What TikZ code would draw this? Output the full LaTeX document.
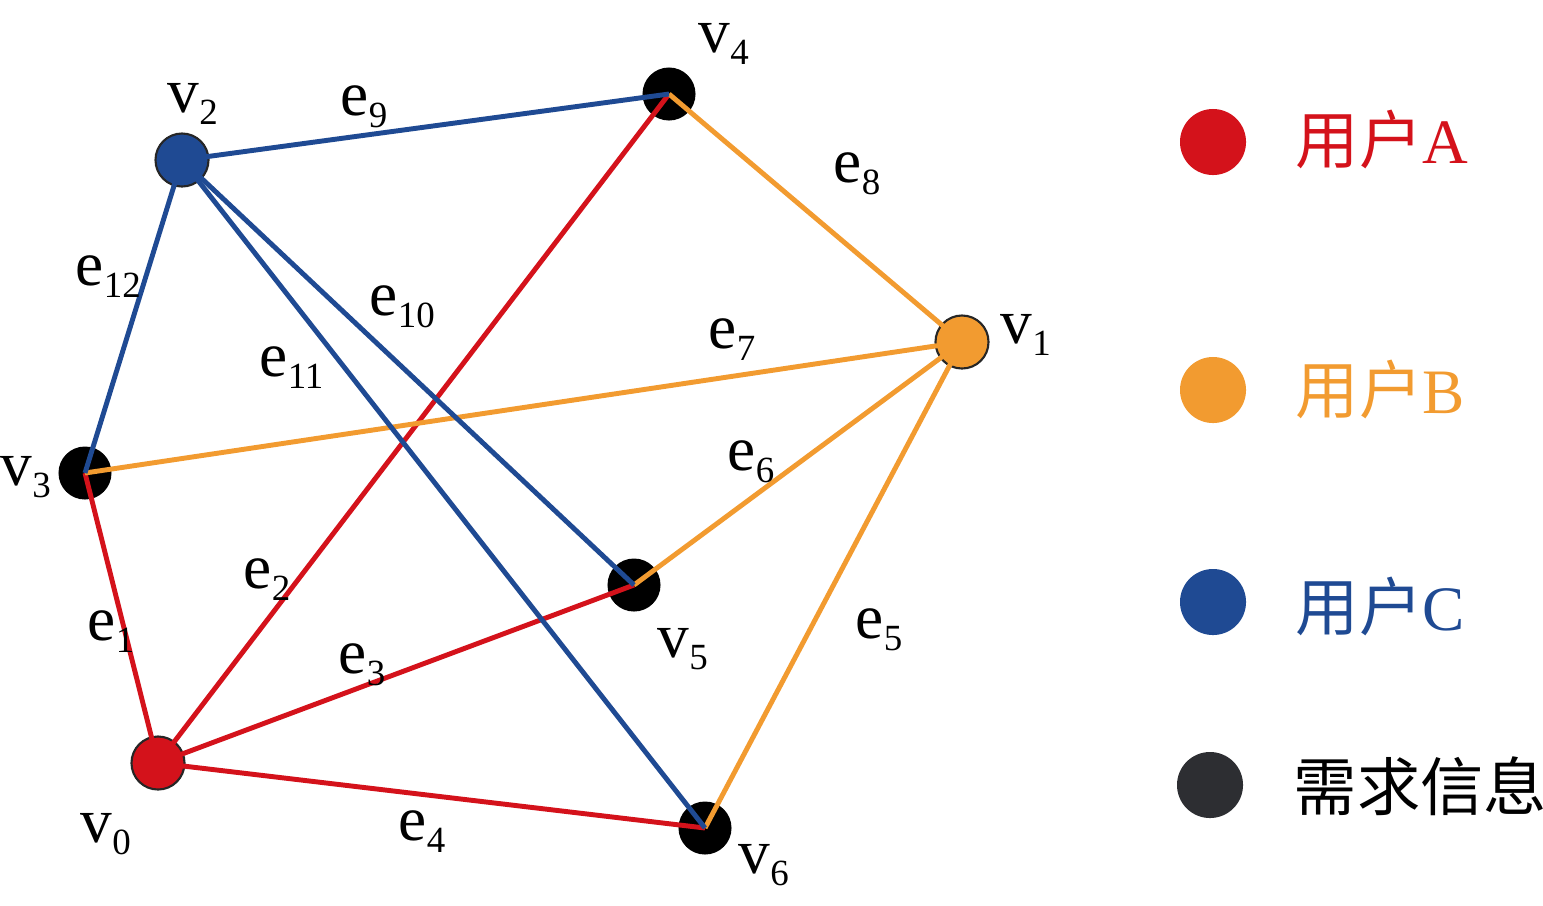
\documentclass[tikz,border=0pt]{standalone}
\usepackage{fontspec}
\setmainfont{Liberation Serif}
\newfontfamily\cjk{Noto Sans CJK SC}
\usetikzlibrary{positioning}

\definecolor{userA}{HTML}{D4121B}
\definecolor{userB}{HTML}{F29B30}
\definecolor{userC}{HTML}{1F4A93}
\definecolor{demand}{HTML}{2D2E32}
\newcommand{\lab}[2]{#1\raisebox{-0.19em}{\fontsize{10.5}{10.5}\selectfont #2}}

\begin{document}
\begin{tikzpicture}[x=0.01cm, y=-0.01cm,
        vertex/.style={circle, inner sep=0pt, minimum size=0.53cm},
        ring/.style={draw=black!85, line width=0.6pt},
        edge/.style={line width=1.4pt},
        tag/.style={anchor=base west, inner sep=0pt, font=\fontsize{18}{20}\selectfont},
        key/.style={circle, inner sep=0pt, minimum size=0.66cm}]

        \useasboundingbox (0,0) rectangle (1543,905);

        % Draw the vertices
        \node[vertex, ring, fill=userA] (v0) at (158,763) {};
        \node[vertex, ring, fill=userB] (v1) at (962,342) {};
        \node[vertex, ring, fill=userC] (v2) at (182,160) {};
        \node[vertex, fill=black] (v3) at (85,473) {};
        \node[vertex, fill=black] (v4) at (669,94) {};
        \node[vertex, fill=black] (v5) at (634,585) {};
        \node[vertex, fill=black] (v6) at (705,828) {};

        % Draw the edges of user A
        \draw[edge, userA] (v3.center) -- (v0.center);
        \draw[edge, userA] (v0.center) -- (v4.center);
        \draw[edge, userA] (v0.center) -- (v5.center);
        \draw[edge, userA] (v0.center) -- (v6.center);

        % Draw the edges of user B
        \draw[edge, userB] (v1.center) -- (v6.center);
        \draw[edge, userB] (v1.center) -- (v5.center);
        \draw[edge, userB] (v1.center) -- (v3.center);
        \draw[edge, userB] (v4.center) -- (v1.center);

        % Draw the edges of user C
        \draw[edge, userC] (v2.center) -- (v4.center);
        \draw[edge, userC] (v2.center) -- (v5.center);
        \draw[edge, userC] (v2.center) -- (v6.center);
        \draw[edge, userC] (v2.center) -- (v3.center);

        % Draw the vertex labels
        \node[tag] (t0) at (80,842) {\lab{v}{0}};
        \node[tag] (t1) at (1000,343) {\lab{v}{1}};
        \node[tag] (t2) at (167,112) {\lab{v}{2}};
        \node[tag] (t3) at (0,485) {\lab{v}{3}};
        \node[tag] (t4) at (698,52) {\lab{v}{4}};
        \node[tag] (t5) at (657,657) {\lab{v}{5}};
        \node[tag] (t6) at (738,873) {\lab{v}{6}};

        % Draw the edge labels
        \node[tag] (s1) at (87,640) {\lab{e}{1}};
        \node[tag] (s2) at (243,588) {\lab{e}{2}};
        \node[tag] (s3) at (338,673) {\lab{e}{3}};
        \node[tag] (s4) at (398,840) {\lab{e}{4}};
        \node[tag] (s5) at (855,638) {\lab{e}{5}};
        \node[tag] (s6) at (727,470) {\lab{e}{6}};
        \node[tag] (s7) at (708,348) {\lab{e}{7}};
        \node[tag] (s8) at (833,182) {\lab{e}{8}};
        \node[tag] (s9) at (340,115) {\lab{e}{9}};
        \node[tag] (s10) at (369,315) {\lab{e}{10}};
        \node[tag] (s11) at (259,376) {\lab{e}{11}};
        \node[tag] (s12) at (75,285) {\lab{e}{12}};

        % Draw the legend
        \node[key, fill=userA] (kA) at (1213,142) {};
        \node[key, fill=userB] (kB) at (1213,390) {};
        \node[key, fill=userC] (kC) at (1213,602) {};
        \node[key, fill=demand] (kD) at (1210,785) {};
        \node[tag, text=userA] (nA) at (1295,163) {{\cjk 用户}A};
        \node[tag, text=userB] (nB) at (1295,413) {{\cjk 用户}B};
        \node[tag, text=userC] (nC) at (1295,630) {{\cjk 用户}C};
        \node[tag] (nD) at (1293,810) {\cjk 需求信息};

    \end{tikzpicture}
\end{document}
